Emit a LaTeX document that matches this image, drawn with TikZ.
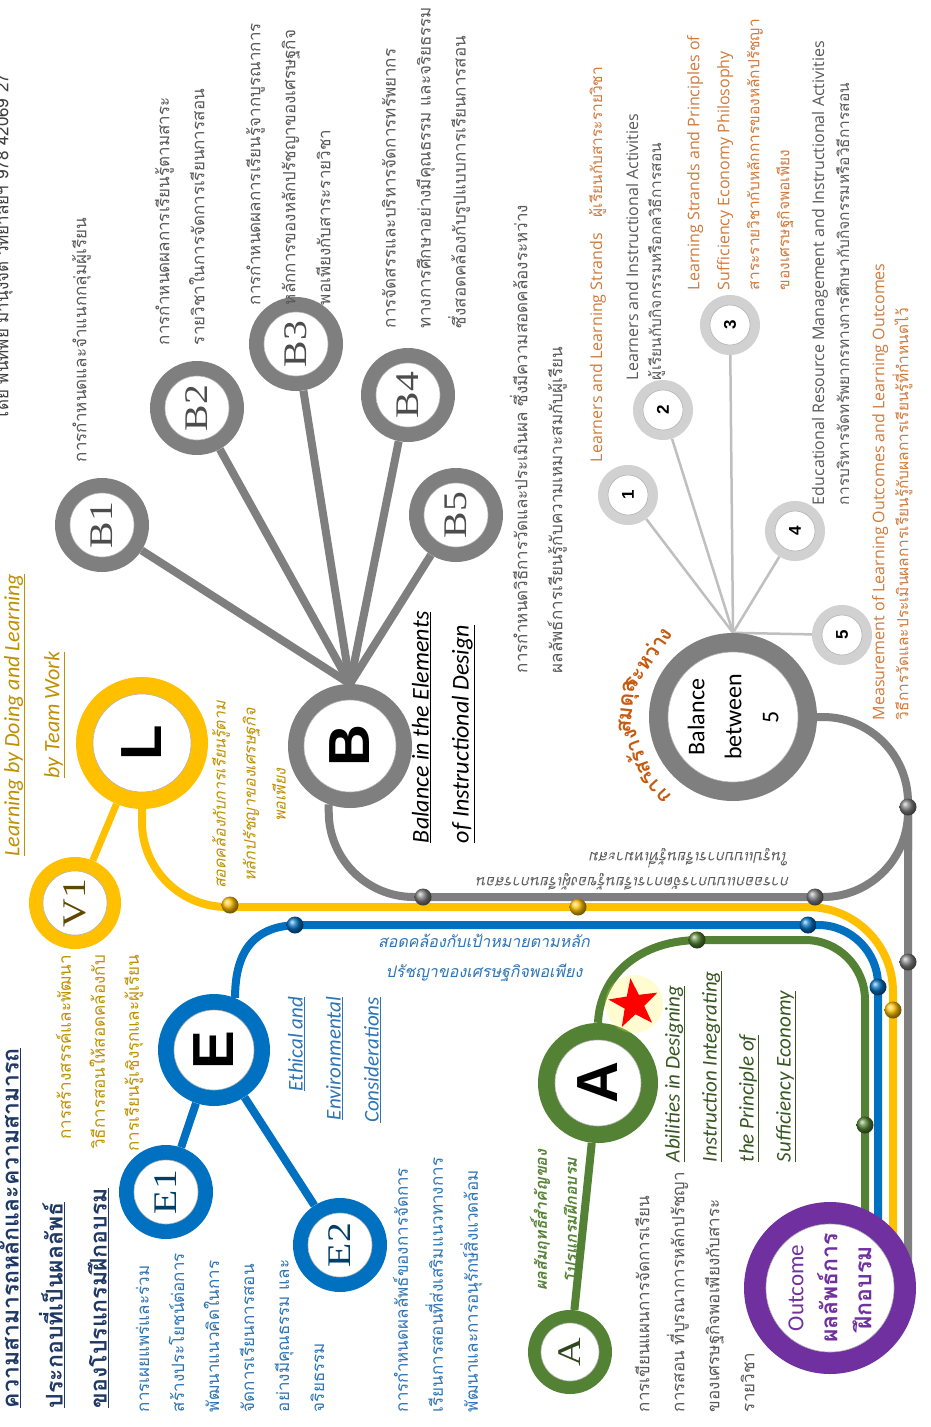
\documentclass[tikz,border=0pt]{standalone}
\usepackage{fontspec}
\setmainfont{Carlito}
\newfontfamily\thai[Script=Thai]{Loma}
\newfontfamily\lsans{Liberation Sans}
\newfontfamily\lserif{Liberation Serif}
\newfontfamily\osans{Open Sans}
\usetikzlibrary{shapes.geometric,calc}
\pgfdeclarelayer{bg}
\pgfsetlayers{bg,main}
\pgfdeclareradialshading{bubble}{\pgfpoint{0bp}{0bp}}{color(0bp)=(white); color(30bp)=(white); color(44bp)=(black!20); color(50bp)=(black!40)}
\definecolor{cy}{HTML}{FFC000}
\definecolor{cgold}{HTML}{BF9000}
\definecolor{cb}{HTML}{0070C0}
\definecolor{cbt}{HTML}{2E75B6}
\definecolor{cg}{HTML}{548235}
\definecolor{cgt}{HTML}{385723}
\definecolor{cgr}{HTML}{7F7F7F}
\definecolor{cpu}{HTML}{7030A0}
\definecolor{cor}{HTML}{C55A11}
\definecolor{cor2}{HTML}{D07A3C}
\definecolor{cnavy}{HTML}{1F3864}
\definecolor{ctx}{HTML}{595959}
\newcommand\bub[8]{%
  \node[ring=#6, minimum size=#4pt] (#1) at (#2,#3) {};
  \node[inner, minimum size=#5pt] (#1i) at (#1.center) {};
  \node[rt, #7] (#1t) at (#1.center) {#8};}
\newcommand\thx[1]{{\thai\fontsize{15.5}{15.5}\selectfont #1}}
\tikzset{
  rt/.style={rotate=90, inner sep=0pt, outer sep=0pt},
  tx/.style={rt, anchor=north west, align=left, text=ctx, font=\thai\fontsize{17}{35}\selectfont},
  item/.style={rt, anchor=north west, align=left, font=\osans\fontsize{16}{#1}\selectfont},
  ring/.style={circle, inner sep=0pt, fill=#1},
  inner/.style={circle, inner sep=0pt, shade, shading=bubble, draw=black!30, line width=0.6pt},
  metro/.style={line width=8pt, draw=#1},
  spoke/.style={line width=8pt, draw=#1},
  dot/.style={circle, minimum size=17pt, inner sep=0pt, ball color=#1},
  bigletter/.style={font=\lsans\bfseries\fontsize{58}{58}\selectfont, text=black},
  smalllab/.style={font=\lserif\fontsize{33}{33}\selectfont, text=#1},
  numlab/.style={font=\lsans\bfseries\fontsize{17}{17}\selectfont, text=black},
  arct/.style={font=\thai\bfseries\fontsize{21}{21}\selectfont, text=cor, inner sep=0pt},
}
\begin{document}
\begin{tikzpicture}[x=1pt,y=-1pt]
\useasboundingbox (0,0) rectangle (931,1427);
\begin{pgfonlayer}{bg}
\fill[white] (0,0) rectangle (931,1427);
\end{pgfonlayer}

% ---------- circles ----------
\bub{L}{142}{743}{132}{98}{cy}{bigletter}{L}
\bub{V}{75}{903}{92}{64}{cy}{smalllab=black!50!cgold}{\scalebox{1.2}[1]{V1}}
\bub{B}{350}{746}{124}{92}{cgr}{bigletter}{B}
\bub{B1}{102}{525}{94}{64}{cgr}{smalllab=black!70}{\scalebox{1.2}[1]{B1}}
\bub{B2}{197}{408}{94}{64}{cgr}{smalllab=black!70}{\scalebox{1.2}[1]{B2}}
\bub{B3}{296}{344}{94}{64}{cgr}{smalllab=black!70}{\scalebox{1.2}[1]{B3}}
\bub{B4}{408}{395}{94}{64}{cgr}{smalllab=black!70}{\scalebox{1.2}[1]{B4}}
\bub{B5}{456}{515}{94}{64}{cgr}{smalllab=black!70}{\scalebox{1.2}[1]{B5}}
\bub{E}{214}{1050}{112}{80}{cb}{bigletter}{E}
\bub{E1}{166}{1192}{94}{64}{cb}{smalllab=cb!55!black}{\scalebox{1.2}[1]{E1}}
\bub{E2}{340}{1245}{94}{64}{cb}{smalllab=cb!55!black}{\scalebox{1.2}[1]{E2}}
\bub{A}{598}{1083}{120}{86}{cg}{bigletter}{A}
\bub{As}{570}{1352}{84}{58}{cg}{smalllab=cg!55!black}{\scalebox{1.2}[1]{A}}
\bub{O}{830}{1288}{172}{128}{cpu}{align=center, text=cpu, font=\fontsize{23}{34}\selectfont}{Outcome\\{\thai\bfseries ผลลัพธ์การ}\\{\thai\bfseries ฝึกอบรม}}
\bub{Bal}{733}{717}{168}{130}{cgr}{align=center, font=\fontsize{24}{37}\selectfont}{Balance\\between\\5}
\bub{n1}{628}{495}{60}{40}{black!18}{numlab}{1}
\bub{n2}{663}{410}{60}{40}{black!18}{numlab}{2}
\bub{n3}{730}{325}{60}{40}{black!18}{numlab}{3}
\bub{n4}{795}{531}{60}{40}{black!18}{numlab}{4}
\bub{n5}{842}{635}{60}{40}{black!18}{numlab}{5}

% ---------- connectors ----------
\begin{pgfonlayer}{bg}
\draw[spoke=cy, line width=7pt] (L) -- (V);
\foreach \t in {B1,B2,B3,B4,B5} \draw[spoke=cgr] (B.north) -- (\t);
\draw[spoke=cb] (E) -- (E1);
\draw[spoke=cb] (E) -- (E2);
\draw[spoke=cg] (A) -- (As);
\foreach \t in {n1,n2,n3,n4,n5} \draw[line width=2.5pt, black!25] (Bal.north) -- (\t);
% metro lines
\draw[metro=cgr, rounded corners=85pt] (B.250) |- (908,897) [rounded corners=30pt] -- (908,850);
\draw[metro=cgr, rounded corners=85pt] (Bal.east) -| (908,0 |- O.center);
\draw[metro=cy, rounded corners=85pt] (L.south) |- (893,907) [rounded corners=55pt] -- (893,0 |- O.center);
\draw[metro=cb] (E.68) .. controls (235,950) and (255,925) .. (300,925) [rounded corners=60pt] -- (878,925) -- (878,0 |- O.center);
\draw[metro=cg] (A.north) .. controls (600,975) and (640,940) .. (700,940) [rounded corners=60pt] -- (865,940) -- (865,0 |- O.center);
\end{pgfonlayer}

% dots
\node[dot=cy] (dy1) at (230,905) {};
\node[dot=cy] (dy2) at (578,907) {};
\node[dot=cy] (dy3) at (893,1010) {};
\node[dot=cb] (db1) at (295,925) {};
\node[dot=cb] (db2) at (808,925) {};
\node[dot=cb] (db3) at (878,987) {};
\node[dot=cg] (dg1) at (697,940) {};
\node[dot=cg] (dg2) at (865,1125) {};
\node[dot=cgr] (dr1) at (423,897) {};
\node[dot=cgr] (dr2) at (815,897) {};
\node[dot=cgr] (dr3) at (908,807) {};
\node[dot=cgr] (dr4) at (908,962) {};

% star
\node[circle, fill=yellow!70, opacity=0.25, minimum size=58pt] (glow) at (634,1004) {};
\node[star, star points=5, star point ratio=2.5, fill=red, minimum size=52pt, inner sep=0pt, rotate=80] (star) at (634,1004) {};

% ---------- texts ----------
\node[tx, text=black!75, font=\thai\fontsize{17}{18}\selectfont] (hdr) at (-7,420) {โดย พันทิพย์ มานุ่งจิต วิทยาลัยฯ 978 42069 27};
\node[tx, text=cnavy, font=\thai\bfseries\fontsize{23}{44}\selectfont] (ttl) at (0,1408) {\underline{ความสามารถหลักและความสามารถ}\\\underline{ประกอบที่เป็นผลลัพธ์}\\\underline{ของโปรแกรมฝึกอบรม}};
\node[rt, anchor=north, align=center, text=cgold, font=\itshape\fontsize{22}{40}\selectfont] (lbd) at (4,715) {\underline{Learning by Doing and Learning}\\\underline{by Team Work}};
\node[rt, anchor=north east, align=right, text=cgold, font=\thai\fontsize{17}{34}\selectfont] (vt) at (56,955) {การสร้างสรรค์และพัฒนา\\วิธีการสอนให้สอดคล้องกับ\\การเรียนรู้เชิงรุกและผู้เรียน};
\node[rt, anchor=north, align=center, text=cgold, font=\thai\itshape\fontsize{16}{30}\selectfont] (lt) at (212,795) {สอดคล้องกับการเรียนรู้ตาม\\หลักปรัชญาของเศรษฐกิจ\\พอเพียง};
\node[tx] (b1t) at (72,462) {การกำหนดและจำแนกกลุ่มผู้เรียน};
\node[tx] (b2t) at (155,345) {การกำหนดผลการเรียนรู้ตามสาระ\\รายวิชาในการจัดการเรียนการสอน};
\node[tx] (b3t) at (246,305) {การกำหนดผลการเรียนรู้จากบูรณาการ\\หลักการของหลักปรัชญาของเศรษฐกิจ\\พอเพียงกับสาระรายวิชา};
\node[tx] (b4t) at (382,328) {การจัดสรรและบริหารจัดการทรัพยากร\\ทางการศึกษาอย่างมีคุณธรรม และจริยธรรม\\ซึ่งสอดคล้องกับรูปแบบการเรียนการสอน};
\node[tx] (b5t) at (510,673) {การกำหนดวิธีการวัดและประเมินผล ซึ่งมีความสอดคล้องระหว่าง\\ผลลัพธ์การเรียนรู้กับความเหมาะสมกับผู้เรียน};
\node[rt, anchor=north west, align=left, font=\itshape\fontsize{24}{40}\selectfont] (bt) at (412,843) {\underline{Balance in the Elements}\\\underline{of Instructional Design}};
\node[rotate=180, anchor=north west, align=left, inner sep=0pt, text=ctx, font=\thai\itshape\fontsize{15}{25}\selectfont] (gt) at (790,890) {การออกแบบการจัดการเรียนรู้ของผู้เรียนการสอน\\ในรูปแบบการเรียนรู้ที่เหมาะสม};
% items
\node[item=20, text=cor2] (i1) at (589,462) {Learners and Learning Strands\quad\thx{ผู้เรียนกับสาระรายวิชา}};
\node[item=23, text=ctx] (i2) at (626,380) {Learners and Instructional Activities\\\thx{ผู้เรียนกับกิจกรรมหรือกลวิธีการสอน}};
\node[item=30, text=cor2] (i3) at (687,290) {Learning Strands and Principles of\\Sufficiency Economy Philosophy\\\thx{สาระรายวิชากับหลักการของหลักปรัชญา}\\\thx{ของเศรษฐกิจพอเพียง}};
\node[item=25, text=ctx] (i4) at (812,505) {Educational Resource Management and Instructional Activities\\\thx{การบริหารจัดทรัพยากรทางการศึกษากับกิจกรรมหรือวิธีการสอน}};
\node[item=24, text=cor2] (i5) at (872,720) {Measurement of Learning Outcomes and Learning Outcomes\\\thx{วิธีการวัดและประเมินผลการเรียนรู้กับผลการเรียนรู้ที่กำหนดไว้}};
% arc text
\node[arct, rotate=132.4] (a1) at (656,787) {การ};
\node[arct, rotate=110] (a2) at (635,753) {สร้าง};
\node[arct, rotate=84.4] (a3) at (629,707) {สมดุล};
\node[arct, rotate=55.6] (a4) at (647,658) {ระหว่าง};
% A texts
\node[rt, anchor=north, align=center, text=cg, font=\thai\bfseries\itshape\fontsize{16}{30}\selectfont] (at1) at (530,1220) {ผลสัมฤทธิ์สำคัญของ\\โปรแกรมฝึกอบรม};
\node[tx] (at2) at (635,1412) {การเขียนแผนการจัดการเรียน\\การสอน ที่บูรณาการหลักปรัชญา\\ของเศรษฐกิจพอเพียงกับสาระ\\รายวิชา};
\node[rt, anchor=north west, align=left, text=cgt, font=\itshape\fontsize{21}{37}\selectfont] (at3) at (665,1162) {\underline{Abilities in Designing}\\\underline{Instruction Integrating}\\\underline{the Principle of}\\\underline{Sufficiency Economy}};
% E texts
\node[tx, text=cbt] (et1) at (136,1412) {การเผยแพร่และร่วม\\สร้างประโยชน์ต่อการ\\พัฒนาแนวคิดในการ\\จัดการเรียนการสอน\\อย่างมีคุณธรรม และ\\จริยธรรม};
\node[tx, text=cbt] (et2) at (393,1412) {การกำหนดผลลัพธ์ของการจัดการ\\เรียนการสอนที่ส่งเสริมแนวทางการ\\พัฒนาและการอนุรักษ์สิ่งแวดล้อม};
\node[rt, anchor=north east, align=right, text=cbt, font=\itshape\fontsize{21}{38}\selectfont] (et3) at (288,997) {\underline{Ethical and}\\\underline{Environmental}\\\underline{Considerations}};
\node[align=center, inner sep=0pt, text=cbt, font=\thai\itshape\fontsize{16}{30}\selectfont] (bt2) at (484,958) {สอดคล้องกับเป้าหมายตามหลัก\\ปรัชญาของเศรษฐกิจพอเพียง};
\end{tikzpicture}
\end{document}
